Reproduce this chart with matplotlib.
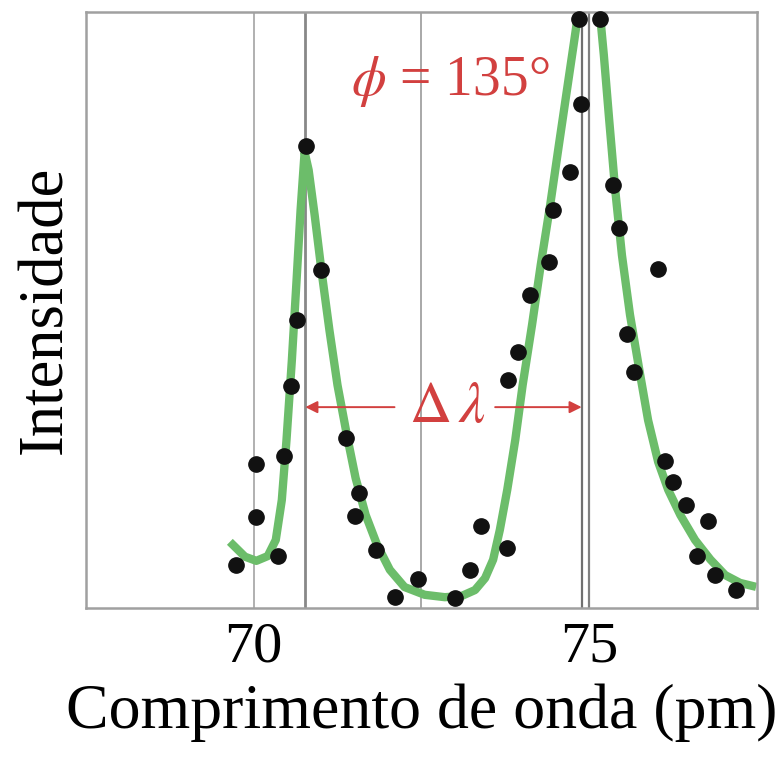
import matplotlib
matplotlib.use("Agg")
import matplotlib.pyplot as plt

plt.rcParams['font.family'] = ['Liberation Serif', 'DejaVu Serif']
plt.rcParams['mathtext.fontset'] = 'stix'

# measured points (wavelength pm, intensity arb. units)
dot_x = [69.73, 70.03, 70.04, 70.37, 70.45, 70.55, 70.64, 70.78, 71.01, 71.37,
         71.57, 71.51, 71.82, 72.10, 72.45, 73.00, 73.22, 73.39, 73.78, 73.79,
         73.94, 74.12, 74.40, 74.46, 74.72, 74.88, 74.85, 75.16, 75.36, 75.45,
         76.03, 75.57, 75.67, 76.13, 76.25, 76.45, 76.78, 76.61, 76.88, 77.19]
dot_y = [7.2, 15.3, 24.2, 8.7, 25.5, 37.2, 48.3, 77.5, 56.7, 28.5,
         19.3, 15.4, 9.7, 1.8, 4.9, 1.7, 6.4, 13.8, 10.1, 38.3,
         43.0, 52.5, 58.1, 66.8, 73.2, 84.6, 98.8, 98.8, 71.0, 63.8,
         56.9, 46.0, 39.6, 24.7, 21.1, 17.3, 14.6, 8.7, 5.5, 3.0]

# fitted curve
fit_x = [69.69, 69.87, 70.04, 70.21, 70.33, 70.42, 70.49, 70.57, 70.64, 70.70,
         70.76, 70.82, 70.91, 71.01, 71.13, 71.25, 71.39, 71.52, 71.67, 71.84,
         72.03, 72.25, 72.55, 72.85, 73.10, 73.30, 73.45, 73.57, 73.67, 73.78,
         73.90, 74.01, 74.15, 74.28, 74.42, 74.55, 74.67, 74.78, 74.84, 75.00,
         75.16, 75.22, 75.30, 75.39, 75.49, 75.61, 75.75, 75.88, 76.03, 76.18,
         76.36, 76.58, 76.81, 77.03, 77.25, 77.43]
fit_y = [10.6, 8.6, 7.9, 8.7, 11.4, 18.1, 28.2, 41.6, 55.0, 66.8,
         76.5, 73.5, 65.9, 56.7, 46.6, 37.4, 29.0, 21.8, 15.6, 10.6,
         6.4, 3.5, 2.2, 1.8, 2.0, 3.0, 5.0, 8.1, 13.1, 19.8,
         28.2, 37.4, 47.5, 57.6, 67.6, 77.7, 86.9, 95.3, 100.0, 108.0,
         100.0, 92.8, 81.9, 70.1, 59.2, 49.2, 39.9, 31.5, 24.5, 19.8,
         15.6, 11.4, 8.1, 5.5, 4.2, 3.7]

# reference lines: (position, colour, width)
vlines = [(70.0, '#b0b0b0', 1.4), (70.77, '#888888', 2.0), (72.50, '#a8a8a8', 1.4),
          (74.89, '#707070', 1.6), (75.0, '#808080', 1.6)]

red = '#d2403f'

fig = plt.figure(figsize=(7.81, 7.58), dpi=100)
ax = fig.add_axes([0.110, 0.198, 0.859, 0.786])

for xv, c, lw in vlines:
    ax.axvline(xv, color=c, lw=lw, zorder=1)

ax.plot(fit_x, fit_y, color='#6cbd6a', lw=6, solid_joinstyle='round', zorder=2)
ax.plot(dot_x, dot_y, 'o', color='#111111', ms=11, zorder=3, clip_on=False)

ax.set_xlim(67.5, 77.5)
ax.set_ylim(0, 100)
ax.set_xticks([70, 75])
ax.set_yticks([])
ax.tick_params(axis='x', length=0, labelsize=42, pad=10)
for s in ax.spines.values():
    s.set_color('#a0a0a0')
    s.set_linewidth(1.8)

ax.set_xlabel('Comprimento de onda (pm)', fontsize=46, labelpad=7)
ax.set_ylabel('Intensidade', fontsize=45, labelpad=8)

ax.text(72.93, 88.3, r'$\phi$ = 135°', color=red, fontsize=40, ha='center', va='center')
ax.text(72.88, 33.5, r'$\Delta\,\lambda$', color=red, fontsize=42, ha='center', va='center')
arrow = dict(arrowstyle='-|>', color=red, lw=1.4, mutation_scale=18, shrinkA=0, shrinkB=0)
ax.annotate('', xy=(70.77, 33.7), xytext=(72.1, 33.7), arrowprops=arrow)
ax.annotate('', xy=(74.89, 33.7), xytext=(73.6, 33.7), arrowprops=arrow)

fig.savefig('out.png', dpi=100)
